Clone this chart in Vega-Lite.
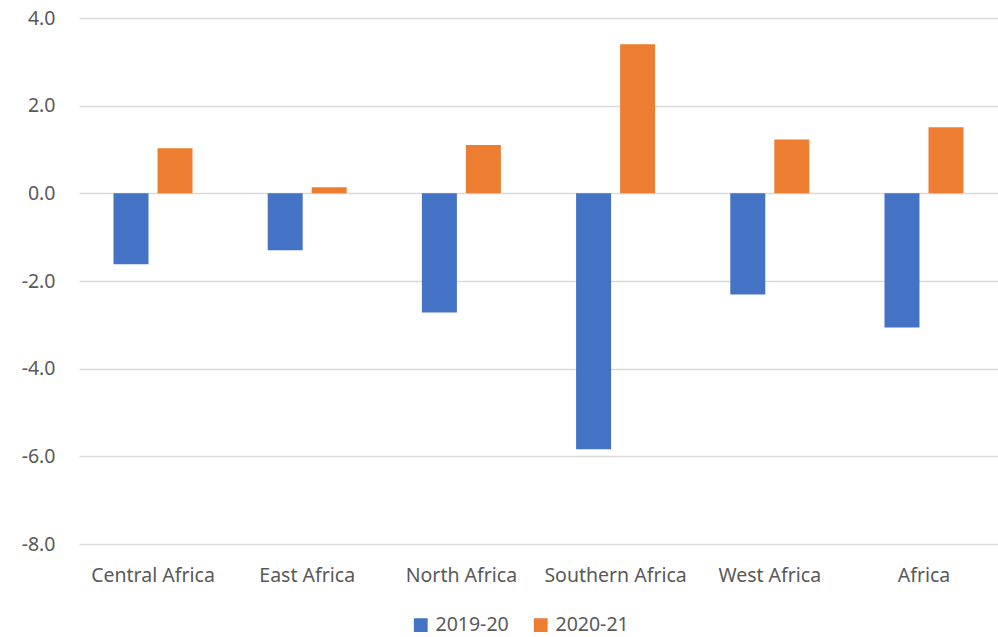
{
  "$schema": "https://vega.github.io/schema/vega-lite/v6.json",
  "width": 919,
  "height": 526,
  "autosize": {"type": "none"},
  "padding": {"left": 79, "top": 18, "right": 0, "bottom": 93},
  "background": "white",
  "data": {
    "values": [
      {"region": "Central Africa", "period": "2019-20", "value": -1.62},
      {"region": "Central Africa", "period": "2020-21", "value": 1.03},
      {"region": "East Africa", "period": "2019-20", "value": -1.30},
      {"region": "East Africa", "period": "2020-21", "value": 0.14},
      {"region": "North Africa", "period": "2019-20", "value": -2.72},
      {"region": "North Africa", "period": "2020-21", "value": 1.10},
      {"region": "Southern Africa", "period": "2019-20", "value": -5.84},
      {"region": "Southern Africa", "period": "2020-21", "value": 3.40},
      {"region": "West Africa", "period": "2019-20", "value": -2.31},
      {"region": "West Africa", "period": "2020-21", "value": 1.23},
      {"region": "Africa", "period": "2019-20", "value": -3.06},
      {"region": "Africa", "period": "2020-21", "value": 1.51}
    ]
  },
  "mark": {"type": "bar"},
  "encoding": {
    "x": {
      "field": "region",
      "type": "nominal",
      "sort": null,
      "scale": {"paddingInner": 0.4877, "paddingOuter": 0.2238},
      "axis": {
        "title": null,
        "labelAngle": 0,
        "ticks": false,
        "domain": false,
        "labelPadding": 22,
        "labelFont": "Noto Sans",
        "labelFontSize": 19.5,
        "labelColor": "#595959"
      }
    },
    "xOffset": {
      "field": "period",
      "type": "nominal",
      "scale": {"paddingInner": 0.205, "paddingOuter": 0}
    },
    "y": {
      "field": "value",
      "type": "quantitative",
      "scale": {"domain": [-8, 4], "nice": false},
      "axis": {
        "title": null,
        "values": [-8, -6, -4, -2, 0, 2, 4],
        "labelExpr": "replace(format(datum.value, '.1f'), '\u2212', '-')",
        "ticks": false,
        "domain": false,
        "gridColor": "#d9d9d9",
        "gridWidth": 1.3,
        "labelPadding": 24,
        "labelFont": "Noto Sans",
        "labelFontSize": 19.5,
        "labelColor": "#595959"
      }
    },
    "color": {
      "field": "period",
      "type": "nominal",
      "scale": {"domain": ["2019-20", "2020-21"], "range": ["#4472c4", "#ed7d31"]},
      "legend": {
        "title": null,
        "orient": "none",
        "legendX": 332,
        "legendY": 597,
        "direction": "horizontal",
        "symbolType": "square",
        "symbolSize": 190,
        "symbolStrokeWidth": 0,
        "labelFont": "Noto Sans",
        "labelFontSize": 19.5,
        "labelColor": "#595959",
        "columnPadding": 22,
        "labelOffset": 5
      }
    }
  },
  "config": {"view": {"stroke": null}}
}
